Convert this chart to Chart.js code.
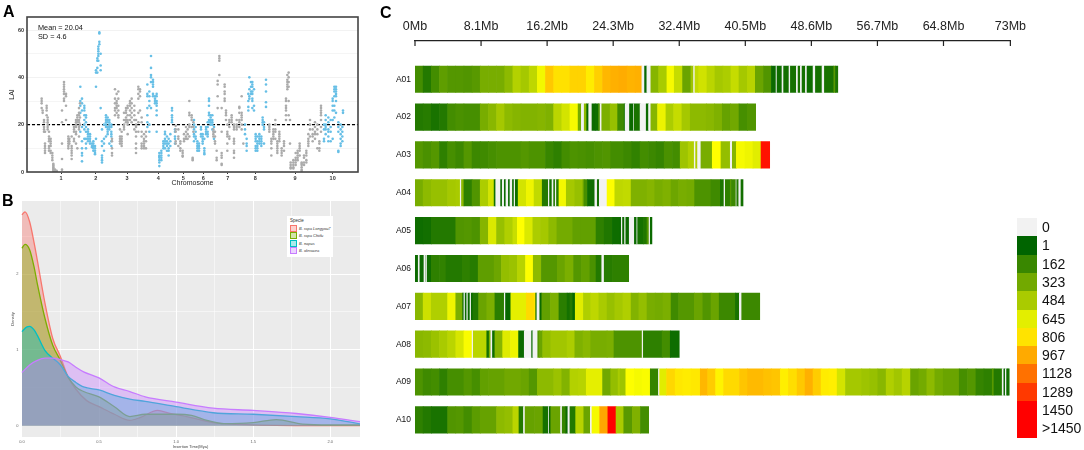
<!DOCTYPE html>
<html>
<head>
<meta charset="utf-8">
<title>LAI, insertion time and LTR density</title>
<script src="https://cdn.jsdelivr.net/npm/chart.js@4"></script>
<style>
  html, body { margin: 0; padding: 0; background: #fff; overflow: hidden; }
  body { width: 1084px; height: 450px; position: relative; font-family: "Liberation Sans", Arial, sans-serif; }
  canvas { position: absolute; }
  #laiChart, #densityChart { filter: blur(0.35px); }
  .note { position: absolute; white-space: nowrap; color: #111; }
  .panel { position: absolute; font-size: 16px; font-weight: bold; color: #000; line-height: 16px; }
  #speciesBox { position: absolute; left: 287px; top: 216px; width: 46px; height: 41px; background: #fff; }
  #speciesBox div { position: absolute; white-space: nowrap; }
  .key { width: 5px; height: 5px; border-width: 1.2px; border-style: solid; }
  .cell { position: absolute; left: 1017px; width: 20px; height: 18.35px; }
  .cellLabel { position: absolute; left: 1042px; font-size: 14px; line-height: 18.35px; color: #111; }
</style>
</head>
<body>
<canvas id="laiChart" width="365" height="190" style="left:0;top:0"></canvas>
<canvas id="densityChart" width="365" height="260" style="left:0;top:190px"></canvas>
<canvas id="genomeChart" width="653" height="450" style="left:380px;top:0"></canvas>

<div class="panel" style="left:3px;top:4px">A</div>
<div class="panel" style="left:2px;top:193px">B</div>
<div class="panel" style="left:380px;top:5px">C</div>
<div class="note" style="left:38px;top:23px;font-size:7.3px">Mean = 20.04</div>
<div class="note" style="left:38px;top:32px;font-size:7.3px">SD = 4.6</div>
<div id="speciesBox"></div>
<div id="scaleKey"></div>

<script>
// Panel A: LAI per genome window, [window, [values...]]
const chr1 = [[125,[31,30,29,27]],[128,[26,25]],[132,[22,21,19,18,17]],[135,[17,11,10,9,8,12]],[140,[28,27,26,24]],[143,[23,22,21,20,19,18]],[147,[15,14,13,11,10,9,17]],[152,[14,13,12,11,9,8]],[157,[8,7,6,5]],[160,[3.5,3,2.5,2,1.5,1,0.5]],[165,[1,0.7,0.3,0.2]],[170,[0.5,0.2]],[186,[1,5.5,12,21,26]],[192,[30,31,33,34,35,36,37,38]],[198,[33,32,28,22]],[205,[15,14,13,12,11,10]],[208,[14,13,12]],[215,[15,11,10,9,8,5.5,7]],[222,[19,18,17,14,13]],[228,[22,21,20,19,17,16,12]],[232,[24,23,22,21,10]],[237,[27,25,24,22,21,19,18,15]],[240,[29,23,20]]];
const chr2 = [[241,[36,30,28,25,17]],[246,[31,29,26,13,10,8,7,4.5,19]],[253,[28,27,26,24,22,20,18,14]],[258,[24,23,21,19,17,14,12,10]],[264,[18,17,16,15,14,13]],[270,[16,15,14,13,12]],[276,[12,11,10.5]],[280,[13,12,11,10,9]],[285,[11,10,9,8,7.5]],[288,[14,36,43,42]],[292,[42,44,47,48]],[295,[51,52,53,50,49,47]],[298,[59,58.5,55,54]],[302,[50,45,43,27]],[306,[18,13,11,7,6,5,4]],[312,[20,14,12,9]],[318,[24,23,22,21,20,19,15]],[323,[23,22,21,19,18,17,16]],[328,[22,21,20,19,18,12]],[334,[20,19,17,16,15,13,11]]];
const chr3 = [[336,[14,13,10,8,7]],[345,[35,31,29,27,26,24]],[350,[33,30,29,28,27,25]],[355,[34,31,28,26,24,23]],[360,[18,15,14,13,12]],[365,[17,15,14,13,12,11]],[372,[25,22,20,19,18]],[378,[27,26,25,23,22,21]],[383,[28,27,24,22,21,20,16]],[390,[30,29,28,26,24,22]],[395,[31,29,27,25,23,21]],[403,[28,26,24,22,18]],[408,[22,20,19,17,15,12,10,8]],[415,[36,35,33,31,25,21,17]],[420,[35,34,32,26]],[425,[23,21,17,15,12,11,10]],[432,[16,14,13,12,11,10]],[438,[17,15,13,10]]];
const chr4 = [[442,[37,33,32,27,24,21,19]],[448,[34,32,30,28,20,17]],[453,[49,44,41,40,38,27]],[459,[39,38,37,36,33,32]],[465,[32,31,30,29]],[470,[33,32,30,29,28,26,24,17]],[478,[8,7,6.5,6,5,2.5,4]],[484,[9,8,7,6,5]],[490,[13,12,11,10]],[495,[17,16,14,13,12,10]],[501,[15,13,12,11,9]],[506,[14,12,10,9,7]],[511,[16,13,11]],[516,[24,23,22,21,27,26]],[525,[18,17,15,14,12]]];
const chr5 = [[527,[19.5,18,17,13,12]],[535,[18,15,14,11]],[541,[13,12,10,9]],[548,[9,8,7,6.5]],[552,[16,14,13]],[558,[19,17,15,14]],[563,[18,16,14]],[568,[30,25,24,19,20,15]],[575,[24,23,22,19]],[578,[6,5.5,5]],[580,[21,19,17]]];
const chr6 = [[582,[22,20,18,16,15,13]],[587,[19,17,15,14]],[592,[13,12,11,10,9]],[597,[12,11,10,9]],[603,[19,18,16,15]],[608,[16,15,14,13,12]],[613,[10,9,8,7.5,14]],[618,[19,18,17,16]],[623,[21,19,17,16,15]],[627,[31,30,28,25,24,22,21]],[632,[24,23,22,21,20]],[637,[24,22,21,20,18]],[642,[19,17,14]]];
const chr7 = [[640,[18,17,16,15]],[645,[17,15,13,12]],[650,[9,6,5]],[653,[38.5,37,32,27]],[658,[49,48,47,41]],[665,[27,17,8,7,6,3,3.5]],[674,[37,36,34,33,31,30]],[678,[26,25,24,22]],[682,[20,17,16,15,12,9]],[688,[22,21,19,15,14]],[695,[24,23,22,21]],[702,[20,19,18,14,13,12,9,8,6]],[710,[22,20,19,18]],[718,[27,27.5,25,22,21,19]],[725,[32,25,24,23,22,20,18]],[730,[12]]];
const chr8 = [[735,[20,18,16]],[740,[14,12,11,9]],[745,[26,27.5,30,33]],[748,[40,35,32,31]],[753,[38,36,34,33]],[757,[37,38,36,34,33,31,30,27]],[762,[35,28,26]],[767,[16,15,14,13,11,10,9]],[772,[15,13,12,11,10,9]],[778,[16,15,14,13,12]],[784,[15,14,13,12,11]],[788,[23,22,21,20]],[792,[21,19,18,12]],[798,[39,37,34,29.5,27.5]]];
const chr9 = [[808,[20,19,18,17]],[814,[14,13,12,10,7]],[820,[18,17,16,15,14]],[826,[22,20,18,17,14]],[832,[13,12,11,10,9,8]],[838,[17,16,15,14,13]],[845,[10,9,8,7]],[852,[13,12,11,9]],[858,[31,30,28,27,26,24,22]],[862,[41,39,38,37,36,35]],[866,[42,40,38,36,30,24]],[870,[12,22]],[872,[4,3,2,1.5]],[880,[5,4,3,2,1.5]],[887,[8,6,5,4,3]],[893,[9,8,7,6,5]],[899,[12,11,10,9,7]],[905,[4,3.5,3,2,1,0.5]],[912,[7,6,4,3]],[919,[9,8,7,5,4]],[925,[16,14,13,12,11]],[930,[22,20,18,15]],[938,[18,16,15,13]],[945,[21,19,17,16,14]],[952,[20,18,16,10]],[958,[13,12,10,9]],[963,[28,27,26,25,24,22,19,17]]];
const chr10 = [[972,[20,18,14,13]],[977,[24,22,20,19,18,16]],[985,[23,21,18,17,15,13]],[992,[22,19,17,13]],[998,[31,30,28,26,22,14]],[1003,[36,35,34,32,28,26,23]],[1008,[36,35,34,33,32,30,25]],[1015,[21,19,17,9,8.5]],[1022,[20,18,16,14,12,11]],[1027,[19,17,15,13]],[1029,[26,25]]];
const chrTicks = [183, 287, 381, 475, 550, 610, 683, 766, 885, 998];
const chrLabels = ['1', '2', '3', '4', '5', '6', '7', '8', '9', '10'];
const laiTicks = [0, 10, 20, 30, 40, 50, 60];
const laiMean = 20;

// Panel B: insertion time density, [Mya, density]
const speciesNames = ['B. rapa Longyou7', 'B. rapa Chiifu', 'B. napus', 'B. oleracea'];
const speciesColors = ['#F8766D', '#7CAE00', '#00BFC4', '#C77CFF'];
const longyou = [[0,2.78],[0.02,2.82],[0.05,2.69],[0.08,2.4],[0.1,2.18],[0.15,1.61],[0.2,1.15],[0.25,0.91],[0.3,0.64],[0.35,0.48],[0.42,0.33],[0.5,0.25],[0.6,0.15],[0.7,0.07],[0.77,0.11],[0.88,0.2],[0.96,0.16],[1.03,0.135],[1.09,0.11],[1.24,0.04],[1.5,0.01],[2,0],[2.2,0]];
const chiifu = [[0,2.34],[0.02,2.39],[0.05,2.32],[0.08,2.08],[0.1,1.87],[0.15,1.41],[0.2,1.06],[0.25,0.86],[0.3,0.64],[0.35,0.51],[0.4,0.45],[0.5,0.38],[0.6,0.25],[0.7,0.12],[0.8,0.15],[1,0.15],[1.1,0.135],[1.2,0.07],[1.31,0.026],[1.5,0.04],[1.65,0.08],[1.82,0.02],[2,0.01],[2.2,0.01]];
const napus = [[0,1.24],[0.03,1.3],[0.05,1.31],[0.08,1.26],[0.1,1.19],[0.15,0.99],[0.2,0.89],[0.25,0.8],[0.3,0.65],[0.35,0.57],[0.4,0.51],[0.5,0.47],[0.6,0.4],[0.7,0.35],[0.8,0.32],[1,0.25],[1.24,0.17],[1.5,0.15],[1.78,0.12],[2,0.09],[2.2,0.02]];
const oleracea = [[0,0.7],[0.05,0.8],[0.1,0.86],[0.15,0.89],[0.2,0.89],[0.25,0.87],[0.3,0.84],[0.35,0.77],[0.4,0.71],[0.5,0.63],[0.6,0.51],[0.7,0.45],[0.8,0.38],[1,0.31],[1.24,0.23],[1.5,0.2],[1.78,0.16],[2,0.11],[2.2,0.05]];
const timeTicks = [0, 0.25, 0.5, 0.75, 1, 1.25, 1.5, 1.75, 2];
const densityTicks = [0, 0.5, 1, 1.5, 2, 2.5];

// Panel C: LTR count along each chromosome, runs of [end Mb, count]
const chromNames = ['A01', 'A02', 'A03', 'A04', 'A05', 'A06', 'A07', 'A08', 'A09', 'A10'];
const mbTicks = [0, 8.1, 16.2, 24.3, 32.4, 40.5, 48.6, 56.7, 64.8, 73];
const mbLabels = ['0Mb', '8.1Mb', '16.2Mb', '24.3Mb', '32.4Mb', '40.5Mb', '48.6Mb', '56.7Mb', '64.8Mb', '73Mb'];
const A01 = [[1,190],[2,100],[3,190],[4,270],[5,240],[6,240],[7,230],[8,250],[9,340],[10,340],[11,340],[12,400],[13,510],[14,470],[15,540],[16,690],[17,880],[18,810],[19,810],[20,850],[21,850],[22,780],[23,860],[24,930],[25,950],[26,960],[27,940],[27.82,950],[28.15,0],[28.43,20],[28.92,0],[29.87,380],[30.89,480],[31.79,700],[32.81,560],[33.83,300],[34.16,450],[34.33,0],[34.78,550],[35.8,590],[36.78,530],[37.76,470],[38.74,490],[39.73,560],[40.75,470],[41.73,520],[42.75,300],[43.7,230],[44.27,30],[44.39,0],[45,40],[45.2,0],[45.86,50],[46.03,0],[46.76,60],[46.97,0],[47.25,70],[47.46,0],[47.87,60],[48.07,0],[48.81,40],[49.1,0],[49.91,60],[50.2,0],[51.35,70],[51.55,250],[51.84,80]];
const A02 = [[1,100],[2,110],[3,70],[4,100],[5,190],[6,210],[8,200],[9,340],[10,390],[11,470],[12,400],[13,380],[15,370],[16,380],[17,360],[18,530],[19,600],[20,700],[20.4,330],[20.75,0],[21.05,400],[21.3,20],[21.7,0],[22.1,30],[22.5,40],[22.7,200],[22.9,0],[23.93,350],[24.85,430],[25.65,180],[25.77,60],[26.3,0],[26.8,30],[26.88,0],[27.6,70],[28.35,0],[28.64,30],[28.92,0],[29.74,380],[30.77,670],[31.71,490],[32.73,560],[33.75,470],[35.72,400],[36.7,390],[37.68,360],[38.66,290],[39.73,320],[40.75,200],[41.77,230]];
const A03 = [[1,240],[2,210],[3,240],[4,130],[5,200],[6,170],[7,240],[8,170],[9,180],[10,200],[13,220],[14,240],[16,220],[17,160],[18,130],[19,190],[20,220],[21,210],[22,200],[23,220],[24,230],[25.6,190],[26.59,170],[27.6,140],[28.64,190],[29.58,170],[30.56,150],[31.58,210],[32.52,190],[33.5,450],[34.24,500],[34.41,0],[34.65,500],[35.06,0],[36.45,340],[37.52,725],[38.66,420],[38.91,0],[39.4,380],[40.46,700],[41.44,680],[42.43,640],[43.49,1400]];
const A04 = [[1,340],[2,400],[4,430],[5,470],[5.55,480],[5.7,0],[6,400],[7,130],[8,230],[9,490],[9.7,600],[9.9,50],[10.5,0],[10.7,30],[10.95,0],[11.15,30],[11.45,0],[11.65,30],[11.95,0],[12.15,30],[12.3,0],[12.65,40],[13.65,600],[14.6,680],[15.6,550],[16.35,100],[16.5,0],[16.8,60],[17,0],[17.2,100],[17.35,0],[17.65,120],[18.55,690],[19.6,470],[20.6,430],[20.75,300],[21.15,200],[22.05,40],[22.35,0],[22.6,50],[23.55,0],[24.5,720],[25.5,540],[26.5,550],[28.45,360],[29.4,380],[30.4,340],[31.4,360],[32.32,310],[33.35,340],[34.29,330],[36.29,220],[37.44,180],[37.89,80],[38.05,0],[38.66,130],[38.8,250],[39.36,170],[39.45,0],[39.7,100],[39.97,0],[40.22,50]];
const A05 = [[1,40],[2,50],[5,100],[6,230],[7,240],[8,220],[9,380],[10,620],[11,430],[12,500],[12.55,570],[13.45,725],[14.45,620],[15.4,490],[16.4,470],[17.4,400],[19.35,330],[20.35,280],[22.2,280],[23.2,130],[24.2,90],[25.15,40],[25.3,30],[25.45,0],[25.7,30],[25.85,0],[26.27,30],[26.9,0],[27.2,30],[27.3,0],[28,60],[28.45,90],[28.7,230],[28.85,0],[29.05,30]];
const A06 = [[0.4,30],[0.6,0],[1.1,30],[1.35,0],[1.4,40],[1.5,0],[2,40],[3,130],[3.8,140],[5.8,100],[6.75,130],[7.75,110],[9.7,270],[10.6,310],[11.6,420],[12.55,440],[13.55,520],[14.5,720],[15.5,400],[17.45,240],[18.4,300],[19.45,350],[20.4,240],[21.45,280],[22.2,210],[22.9,100],[23.2,0],[24.2,110],[26.2,130]];
const A07 = [[1,390],[2,580],[4,500],[5,680],[5.85,350],[6,30],[6.15,0],[6.35,30],[6.5,0],[6.75,30],[6.9,0],[7.1,30],[7.8,90],[8.8,300],[9.8,350],[10.95,120],[11.1,0],[11.75,20],[13.65,650],[14.6,830],[14.8,800],[14.95,30],[15.3,0],[15.55,30],[16.6,280],[17.65,350],[18.65,120],[19,60],[19.35,100],[19.65,20],[20.65,640],[21.55,500],[22.55,540],[23.55,480],[24.5,430],[25.5,470],[26.5,500],[27.45,370],[28.45,420],[29.45,340],[30.4,330],[31.4,350],[32.32,180],[34.25,240],[35.3,300],[36.3,230],[37.3,300],[39.28,170],[39.77,70],[40.06,0],[42.27,170]];
const A08 = [[1,390],[2,400],[3,440],[4,480],[5,530],[6,610],[7,710],[7.15,0],[8.8,530],[9.1,60],[9.3,350],[9.5,0],[9.8,40],[10.75,380],[11.7,630],[12.7,680],[13.4,30],[14.3,0],[14.45,30],[15.05,0],[15.25,250],[15.65,300],[16.65,420],[18.65,460],[19.6,490],[20.6,360],[21.55,390],[23.55,340],[24.4,350],[27.85,220],[28,0],[30.3,130],[31.3,190],[32.4,40]];
const A09 = [[1,220],[2,180],[3,190],[4,130],[6,200],[7,240],[8,200],[9,280],[11,290],[13,320],[14,300],[15,240],[17,400],[18,440],[19,370],[20,510],[21,520],[23,650],[24,320],[24.9,420],[25.15,480],[25.85,450],[26.9,720],[27.85,700],[28.85,710],[29.85,150],[30,0],[30.85,640],[31.9,840],[32.85,790],[33.85,780],[34.98,790],[35.88,930],[36.86,870],[37.84,760],[39.8,830],[40.79,890],[42.75,920],[43.74,900],[44.8,890],[45.78,770],[46.85,820],[47.83,880],[48.81,950],[49.79,870],[50.77,780],[51.76,770],[52.78,600],[54.78,470],[55.77,450],[56.75,430],[57.77,390],[58.75,500],[59.73,460],[60.76,520],[61.78,300],[62.76,330],[63.74,400],[64.77,330],[66.73,300],[67.75,200],[68.78,240],[69.76,150],[70.78,130],[70.99,250],[72,100],[72.2,0],[72.38,30],[72.54,0],[72.7,30],[72.86,60]];
const A10 = [[1,130],[2,100],[4,70],[5,230],[6,240],[7,190],[8,260],[10,290],[11,400],[12,420],[12.75,530],[13.3,100],[13.5,0],[14.65,290],[15.7,300],[16.35,60],[16.45,0],[16.65,30],[17.85,300],[18.05,0],[18.5,150],[18.75,30],[19,0],[19.7,100],[20.7,520],[21.5,300],[21.7,0],[22.65,700],[23.65,980],[24.65,1450],[25.6,480],[26.65,250],[27.65,360],[28.65,190]];
const chromRuns = [A01, A02, A03, A04, A05, A06, A07, A08, A09, A10];
const keyLabels = ['0', '1', '162', '323', '484', '645', '806', '967', '1128', '1289', '1450', '>1450'];
const keyValues = [0, 1, 162, 323, 484, 645, 806, 967, 1128, 1289, 1450, 1450];

// dark green -> yellow -> red, 0 on its own
function countColor(v) {
    if (v === 0) return '#f2f2f2';
    if (v <= 725) {
        const t = v / 725;
        return `rgb(${Math.round(255 * t)},${Math.round(100 + 155 * t)},0)`;
    }
    const t = Math.min((v - 725) / 725, 1);
    return `rgb(255,${Math.round(255 * (1 - t))},0)`;
}

function toPoints(rows) {
    return rows.flatMap(([x, values]) => values.map(y => ({ x, y })));
}

function toXY(pairs) {
    return pairs.map(([x, y]) => ({ x, y }));
}

function setTicks(values) {
    return scale => { scale.ticks = values.map(value => ({ value })); };
}

// fixes the plot rectangle so it lines up with the figure
const fitWidth = w => scale => { scale.width = w; };
const fitHeight = h => scale => { scale.height = h; };

const framePlugin = {
    id: 'frame',
    afterDraw(chart, args, opts) {
        const { ctx, chartArea: a } = chart;
        ctx.save();
        ctx.strokeStyle = opts.color;
        ctx.lineWidth = opts.width;
        ctx.strokeRect(a.left, a.top, a.right - a.left, a.bottom - a.top);
        ctx.restore();
    }
};

const panelFill = {
    id: 'panelFill',
    beforeDraw(chart, args, opts) {
        const { ctx, chartArea: a } = chart;
        ctx.save();
        ctx.fillStyle = opts.color;
        ctx.fillRect(a.left, a.top, a.right - a.left, a.bottom - a.top);
        ctx.restore();
    }
};

// ticks of panel C hang below the axis line
const downTicks = {
    id: 'downTicks',
    afterDraw(chart) {
        const { ctx, scales: { x }, chartArea: a } = chart;
        ctx.save();
        ctx.strokeStyle = '#222';
        ctx.lineWidth = 1.2;
        ctx.beginPath();
        mbTicks.forEach(t => {
            const px = x.getPixelForValue(t);
            ctx.moveTo(px, a.top);
            ctx.lineTo(px, a.top + 5);
        });
        ctx.stroke();
        ctx.restore();
    }
};

Chart.defaults.font.family = '"Liberation Sans", Arial, sans-serif';
Chart.defaults.animation = false;
Chart.defaults.responsive = false;
Chart.defaults.devicePixelRatio = 1;
Chart.defaults.plugins.legend.display = false;
Chart.defaults.plugins.tooltip.enabled = false;

new Chart(document.getElementById('laiChart'), {
    type: 'scatter',
    plugins: [framePlugin],
    data: {
        datasets: [
            {
                label: 'odd chromosomes',
                data: toPoints([...chr1, ...chr3, ...chr5, ...chr7, ...chr9]),
                backgroundColor: '#ababab', pointRadius: 1.3, borderWidth: 0
            },
            {
                label: 'even chromosomes',
                data: toPoints([...chr2, ...chr4, ...chr6, ...chr8, ...chr10]),
                backgroundColor: '#67bfe6', pointRadius: 1.3, borderWidth: 0
            },
            {
                label: 'mean',
                type: 'line',
                data: [{ x: 81, y: laiMean }, { x: 1074, y: laiMean }],
                borderColor: '#000', borderWidth: 1.2, borderDash: [3, 2], pointRadius: 0
            }
        ]
    },
    options: {
        layout: { padding: { top: 17, right: 7 } },
        plugins: { frame: { color: '#444', width: 1.6 } },
        scales: {
            x: {
                type: 'linear', min: 81, max: 1074,
                afterBuildTicks: setTicks(chrTicks),
                afterFit: fitHeight(18),
                grid: { drawOnChartArea: false, tickLength: 2, color: '#333' },
                border: { display: false },
                ticks: {
                    autoSkip: false, maxRotation: 0, padding: 1,
                    font: { size: 5.5, weight: 'bold' }, color: '#333',
                    callback: v => chrLabels[chrTicks.indexOf(v)]
                },
                title: { display: true, text: 'Chromosome', font: { size: 7 }, color: '#222', padding: { top: 0, bottom: 3 } }
            },
            y: {
                min: 0, max: 65.5,
                afterBuildTicks: setTicks(laiTicks),
                afterFit: fitWidth(27),
                grid: { color: ctx => ctx.tick.value % 20 === 0 ? '#efefef' : '#f3f3f3', drawTicks: true, tickLength: 2, lineWidth: 0.8 },
                border: { display: false },
                ticks: {
                    autoSkip: false, padding: 1,
                    font: { size: 5.5, weight: 'bold' }, color: '#333',
                    callback: v => v % 20 === 0 ? String(v) : ''
                },
                title: { display: true, text: 'LAI', font: { size: 7 }, color: '#222', padding: { top: 8, bottom: 0 } }
            }
        }
    }
});

const densitySeries = [longyou, chiifu, napus, oleracea];
new Chart(document.getElementById('densityChart'), {
    type: 'line',
    plugins: [panelFill],
    data: {
        datasets: densitySeries.map((points, i) => ({
            label: speciesNames[i],
            data: toXY(points),
            borderColor: speciesColors[i],
            backgroundColor: speciesColors[i] + '66',
            borderWidth: 1.3,
            pointRadius: 0,
            fill: 'origin',
            order: densitySeries.length - i,
            cubicInterpolationMode: 'monotone'
        }))
    },
    options: {
        layout: { padding: { top: 11, right: 5 } },
        plugins: { panelFill: { color: '#ebebeb' } },
        scales: {
            x: {
                type: 'linear', min: -0.006, max: 2.193,
                afterBuildTicks: setTicks(timeTicks),
                afterFit: fitHeight(13),
                grid: {
                    color: '#fff', tickLength: 1.5,
                    lineWidth: ctx => ctx.tick.value % 0.5 === 0 ? 1 : 0.5
                },
                border: { display: false },
                ticks: {
                    autoSkip: false, maxRotation: 0, padding: 1,
                    font: { size: 4 }, color: '#666',
                    callback: v => v % 0.5 === 0 ? v.toFixed(1) : ''
                },
                title: { display: true, text: 'Insertion Time(Mya)', font: { size: 4 }, color: '#444', padding: { top: 0, bottom: 1 } }
            },
            y: {
                min: -0.15, max: 2.963,
                afterBuildTicks: setTicks(densityTicks),
                afterFit: fitWidth(21),
                grid: {
                    color: '#fff', tickLength: 1.5,
                    lineWidth: ctx => ctx.tick.value % 1 === 0 ? 1 : 0.5
                },
                border: { display: false },
                ticks: {
                    autoSkip: false, padding: 1,
                    font: { size: 4 }, color: '#666',
                    callback: v => v % 1 === 0 ? String(v) : ''
                },
                title: { display: true, text: 'Density', font: { size: 4 }, color: '#444', padding: { top: 10, bottom: 0 } }
            }
        }
    }
});

// every run becomes one floating bar on its chromosome row
const genomeBars = chromRuns.flatMap((runs, row) =>
    runs.map(([end, count], i) => ({
        x: [i === 0 ? 0 : runs[i - 1][0], end],
        y: row,
        count
    }))
);

new Chart(document.getElementById('genomeChart'), {
    type: 'bar',
    plugins: [downTicks],
    data: {
        datasets: [{
            label: 'LTR count',
            data: genomeBars,
            backgroundColor: genomeBars.map(b => countColor(b.count)),
            borderWidth: 0,
            barThickness: 26.5,
            grouped: false
        }]
    },
    options: {
        indexAxis: 'y',
        layout: { padding: { top: 0, right: 17 } },
        scales: {
            x: {
                type: 'linear', position: 'top', min: 0, max: 73,
                afterBuildTicks: setTicks(mbTicks),
                afterFit: fitHeight(41),
                grid: { display: false, drawTicks: false },
                border: { display: true, color: '#222', width: 1.2 },
                ticks: {
                    autoSkip: false, maxRotation: 0, padding: 7,
                    font: { size: 12.5 }, color: '#222',
                    callback: v => mbLabels[mbTicks.indexOf(v)]
                }
            },
            y: {
                type: 'linear', reverse: true, offset: false, min: -1.01, max: 9.555,
                afterBuildTicks: setTicks(chromNames.map((_, i) => i)),
                afterFit: fitWidth(35),
                grid: { display: false, drawTicks: false },
                border: { display: false },
                ticks: {
                    autoSkip: false, padding: 4,
                    font: { size: 8.5 }, color: '#111',
                    callback: v => chromNames[v]
                }
            }
        }
    }
});

// species key inside panel B
const speciesBox = document.getElementById('speciesBox');
speciesBox.innerHTML = '<div style="left:3px;top:2px;font-size:4.5px;color:#333">Specie</div>' +
    speciesNames.map((name, i) => {
        const top = 9 + i * 7.35;
        return `<div class="key" style="left:3px;top:${top}px;border-color:${speciesColors[i]};background:${speciesColors[i]}55"></div>` +
            `<div style="left:12px;top:${top + 1}px;font-size:4px;font-style:italic;color:#333">${name}</div>`;
    }).join('');

// colour key of panel C
document.getElementById('scaleKey').innerHTML = keyLabels.map((label, i) => {
    const top = 218 + i * 18.3;
    return `<div class="cell" style="top:${top}px;background:${countColor(keyValues[i])}"></div>` +
        `<div class="cellLabel" style="top:${top}px">${label}</div>`;
}).join('');
</script>
</body>
</html>
